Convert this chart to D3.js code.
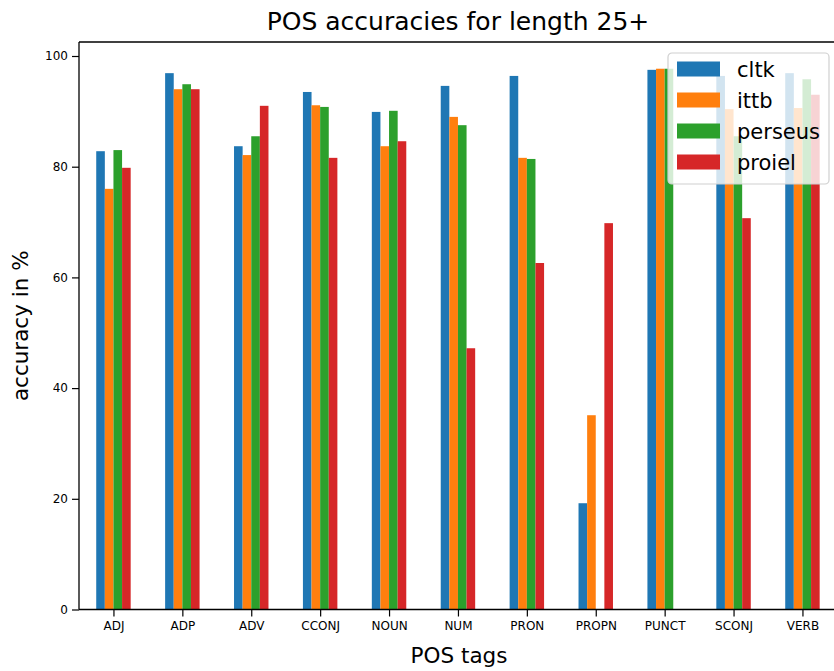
<!DOCTYPE html>
<html>
<head>
<meta charset="utf-8">
<script src="https://cdn.jsdelivr.net/npm/d3@7"></script>
<style>
	body { margin: 0; background: #fff; }
	text { font-family: "DejaVu Sans", sans-serif; fill: #000; }
</style>
</head>
<body>
<div id="chart"></div>
<script>

var categories = ["ADJ", "ADP", "ADV", "CCONJ", "NOUN", "NUM", "PRON", "PROPN", "PUNCT", "SCONJ", "VERB"]
var series_names = ["cltk", "ittb", "perseus", "proiel"]

var cltk    = [82.8, 96.9, 83.7, 93.5, 89.9, 94.6, 96.4, 19.2, 97.5, 96.4, 96.9]
var ittb    = [76.0, 94.0, 82.1, 91.1, 83.7, 89.0, 81.6, 35.1, 97.7, 90.4, 90.6]
var perseus = [83.0, 94.9, 85.5, 90.8, 90.1, 87.5, 81.4, 0, 97.7, 85.5, 95.8]
var proiel  = [79.8, 94.0, 91.0, 81.6, 84.6, 47.2, 62.6, 69.8, 0, 70.7, 93.0]

var y_ticks = [0, 20, 40, 60, 80, 100]
var colours = ["#1f77b4", "#ff7f0e", "#2ca02c", "#d62728"]

var width = 834, height = 671
var margin = {left: 79, top: 42, bottom: 609.5}
var group_step = 68.9

var svg = d3.select("#chart").append("svg")
	.attr("width", width)
	.attr("height", height)

var x = d3.scaleLinear().domain([-0.5, categories.length - 0.5])
	.range([margin.left, margin.left + group_step * categories.length])
var y = d3.scaleLinear().domain([0, 100]).range([margin.bottom, 56])

var all_series = [cltk, ittb, perseus, proiel]
var bar_w = 0.125

// bars
all_series.forEach(function(values, s) {
	var offset = (s - 1.5) * bar_w
	svg.append("g").selectAll("rect")
		.data(values)
		.enter()
		.append("rect")
		.attr("x", function(d, i) {return x(i + offset - bar_w / 2)})
		.attr("width", function(d) {return x(bar_w) - x(0)})
		.attr("y", function(d) {return y(d)})
		.attr("height", function(d) {return y(0) - y(d)})
		.attr("fill", colours[s])
})

// spines
svg.append("line").attr("x1", margin.left).attr("x2", margin.left)
	.attr("y1", margin.top).attr("y2", margin.bottom)
	.attr("stroke", "#000").attr("stroke-width", 1.3)
svg.append("line").attr("x1", margin.left).attr("x2", width)
	.attr("y1", margin.top).attr("y2", margin.top)
	.attr("stroke", "#000").attr("stroke-width", 1.3)
svg.append("line").attr("x1", margin.left).attr("x2", width)
	.attr("y1", margin.bottom).attr("y2", margin.bottom)
	.attr("stroke", "#000").attr("stroke-width", 1.3)

// axes
var y_axis = d3.axisLeft(y).tickValues(y_ticks).tickSize(7).tickPadding(4)
svg.append("g").attr("transform", "translate(" + margin.left + ",0)").call(y_axis)
var x_axis = d3.axisBottom(x).tickValues(d3.range(categories.length))
	.tickFormat(function(d) {return categories[d]}).tickSize(7).tickPadding(5)
svg.append("g").attr("transform", "translate(0," + margin.bottom + ")").call(x_axis)

svg.selectAll(".domain").remove()
svg.selectAll(".tick line").attr("stroke", "#000").attr("stroke-width", 1.2)
svg.selectAll(".tick text").style("font-family", "DejaVu Sans").style("font-size", "12px")

// titles
svg.append("text").attr("x", 458).attr("y", 30)
	.attr("text-anchor", "middle").style("font-size", "25px")
	.text("POS accuracies for length 25+")
svg.append("text").attr("x", 459).attr("y", 663)
	.attr("text-anchor", "middle").style("font-size", "21.5px")
	.text("POS tags")
svg.append("text")
	.attr("transform", "translate(28," + ((margin.top + margin.bottom) / 2) + ") rotate(-90)")
	.attr("text-anchor", "middle").style("font-size", "21.5px")
	.text("accuracy in %")

// legend
var legend = svg.append("g").attr("transform", "translate(668,53)")
legend.append("rect")
	.attr("width", 161).attr("height", 131)
	.attr("rx", 4).attr("ry", 4)
	.attr("fill", "#fff").attr("fill-opacity", 0.8)
	.attr("stroke", "#d0d0d0").attr("stroke-width", 1.2)

var legend_items = legend.selectAll(".legend_item")
	.data(series_names)
	.enter()
	.append("g")
	.attr("class", "legend_item")
	.attr("transform", function(d, i) {return "translate(0," + (16 + i * 31) + ")"})

legend_items.append("rect")
	.attr("x", 9).attr("y", -7.5)
	.attr("width", 43).attr("height", 15)
	.attr("fill", function(d, i) {return colours[i]})

legend_items.append("text")
	.attr("x", 69).attr("y", 7.5)
	.style("font-size", "21px")
	.text(function(d) {return d})

</script>
</body>
</html>
